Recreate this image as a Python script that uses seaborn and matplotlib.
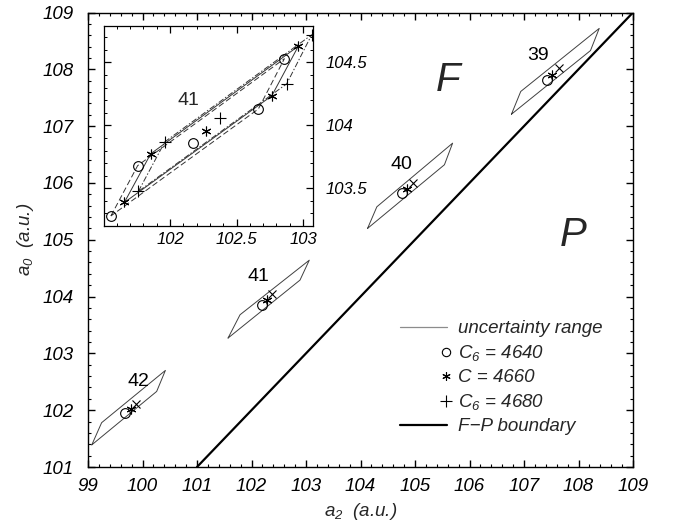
import numpy as np
import pandas as pd
import matplotlib
matplotlib.use("Agg")
import matplotlib.pyplot as plt
import seaborn as sns
from matplotlib.lines import Line2D
from matplotlib.legend_handler import HandlerLine2DCompound
from matplotlib.ticker import MultipleLocator, FormatStrFormatter

# ---------------- data ----------------
group_labels = ["42", "41", "40", "39"]
label_x = [99.92, 102.12, 104.76, 107.26]
label_y = [102.51, 104.36, 106.32, 108.25]

# uncertainty parallelograms (main plot)
bl_x = [99.07, 101.57, 104.13, 106.77]
bl_y = [101.39, 103.27, 105.20, 107.21]
ul_x = [99.25, 101.79, 104.30, 106.94]
ul_y = [101.78, 103.68, 105.58, 107.61]
tr_x = [100.42, 103.06, 105.69, 108.38]
tr_y = [102.70, 104.64, 106.70, 108.72]
lr_x = [100.26, 102.89, 105.54, 108.22]
lr_y = [102.33, 104.29, 106.32, 108.33]

# centre points for the three C6 values
c4640_x = [99.68, 102.19, 104.76, 107.42]
c4640_y = [101.95, 103.85, 105.82, 107.81]
c4660_x = [99.79, 102.28, 104.86, 107.52]
c4660_y = [102.02, 103.94, 105.89, 107.90]
c4680_x = [99.88, 102.38, 104.96, 107.64]
c4680_y = [102.11, 104.04, 106.00, 108.02]

boundary_x = [101, 109]
boundary_y = [101, 109]

# inset (group 41): vertices BL, UL, TR, LR, centre
in4640_x = [101.556, 101.757, 102.860, 102.664, 102.17]
in4640_y = [103.280, 103.680, 104.530, 104.130, 103.86]
in4660_x = [101.657, 101.855, 102.965, 102.765, 102.27]
in4660_y = [103.387, 103.774, 104.630, 104.235, 103.957]
in4680_x = [101.762, 101.962, 103.065, 102.877, 102.376]
in4680_y = [103.475, 103.870, 104.720, 104.330, 104.06]

# ---------------- style ----------------
sns.set_theme(style="ticks")
plt.rcParams["font.family"] = ["Liberation Sans", "DejaVu Sans"]
plt.rcParams["font.style"] = "italic"
plt.rcParams["mathtext.fontset"] = "custom"
plt.rcParams["mathtext.it"] = "Liberation Sans:italic"
plt.rcParams["mathtext.rm"] = "Liberation Sans:italic"
plt.rcParams["axes.linewidth"] = 1.0
plt.rcParams["axes.edgecolor"] = "black"

W, H = 680, 527
fig = plt.figure(figsize=(W / 100, H / 100), dpi=100)
ax = fig.add_axes([88 / W, 1 - 467 / H, 545 / W, 454.5 / H])

STAR = (6, 2, 0)
poly_col = "0.25"

# parallelograms
for i in range(len(group_labels)):
    xs = [bl_x[i], ul_x[i], tr_x[i], lr_x[i], bl_x[i]]
    ys = [bl_y[i], ul_y[i], tr_y[i], lr_y[i], bl_y[i]]
    ax.plot(xs, ys, color=poly_col, lw=0.7)
    ax.text(label_x[i], label_y[i], group_labels[i], fontsize=14,
            style="normal", ha="center", va="center", color="black")

# boundary
sns.lineplot(x=boundary_x, y=boundary_y, ax=ax, color="black", lw=1.6)

# centre markers
ax.plot(c4640_x, c4640_y, ls="none", marker="o", mfc="none", mec="black",
        ms=7, mew=0.8)
ax.plot(c4660_x, c4660_y, ls="none", marker=STAR, color="black", ms=7, mew=0.8)
ax.plot(c4680_x, c4680_y, ls="none", marker="x", color="black", ms=5.5, mew=0.8)

ax.text(105.6, 107.82, "F", fontsize=29, ha="center", va="center")
ax.text(107.9, 105.08, "P", fontsize=29, ha="center", va="center")

ax.set_xlim(99, 109)
ax.set_ylim(101, 109)
ax.xaxis.set_major_locator(MultipleLocator(1))
ax.xaxis.set_minor_locator(MultipleLocator(0.2))
ax.yaxis.set_major_locator(MultipleLocator(1))
ax.yaxis.set_minor_locator(MultipleLocator(0.2))
ax.xaxis.set_major_formatter(FormatStrFormatter("%g"))
ax.yaxis.set_major_formatter(FormatStrFormatter("%g"))
ax.tick_params(which="both", direction="in", top=True, right=True,
               colors="black", labelsize=13.5)
ax.tick_params(which="major", length=5, width=1, pad=8)
ax.tick_params(axis="y", which="major", pad=10)
ax.tick_params(which="minor", length=2.5, width=0.8)
ax.set_xlabel(r"$a_2$  (a.u.)", fontsize=13.5, labelpad=4)
ax.set_ylabel(r"$a_0$  (a.u.)", fontsize=13.5, labelpad=5)
for s in ax.spines.values():
    s.set_visible(True)
    s.set_color("black")

# legend (markers at the right end of the handle, as in the reference)
class RightMarker(HandlerLine2DCompound):
    def get_xdata(self, legend, xdescent, ydescent, width, height, fontsize):
        xd, xm = super().get_xdata(legend, xdescent, ydescent, width, height, fontsize)
        return xd, [-xdescent + width - 0.05 * fontsize]

handles = [
    Line2D([], [], color="0.55", lw=0.9),
    Line2D([], [], ls="none", marker="o", mfc="none", mec="black", ms=6, mew=0.8),
    Line2D([], [], ls="none", marker=STAR, color="black", ms=6, mew=0.8),
    Line2D([], [], ls="none", marker="+", color="black", ms=8, mew=0.8),
    Line2D([], [], color="black", lw=1.6),
]
labels = ["uncertainty range", r"$C_6$ = 4640", "C = 4660", r"$C_6$ = 4680",
          "F\u2212P boundary"]
hm = {h: RightMarker(numpoints=1) for h in handles[1:4]}
leg = fig.legend(handles, labels, loc="upper left",
                 bbox_to_anchor=(400 / W, 1 - 320 / H), frameon=False,
                 fontsize=13.5, handlelength=2.5, handletextpad=0.6,
                 labelspacing=0.32, borderpad=0, borderaxespad=0,
                 handler_map=hm)

# ---------------- inset ----------------
ins = fig.add_axes([104 / W, 1 - 226 / H, 209 / W, 200 / H])
ins.set_facecolor("white")
order = [0, 1, 2, 3, 0]
for xs, ys, ls in [(in4640_x, in4640_y, (0, (6, 3))),
                   (in4660_x, in4660_y, "-"),
                   (in4680_x, in4680_y, (0, (6, 2, 1.5, 2)))]:
    ins.plot([xs[k] for k in order], [ys[k] for k in order], color="0.2",
             lw=0.7, ls=ls)
ins.plot(in4640_x, in4640_y, ls="none", marker="o", mfc="none", mec="black",
         ms=7, mew=0.8)
ins.plot(in4660_x, in4660_y, ls="none", marker=STAR, color="black", ms=7, mew=0.8)
ins.plot(in4680_x, in4680_y, ls="none", marker="+", color="black", ms=8, mew=0.8)
ins.text(102.14, 104.2, "41", fontsize=14, style="normal", ha="center",
         va="center")
ins.set_xlim(101.504, 103.075)
ins.set_ylim(103.20, 104.79)
ins.xaxis.set_major_locator(MultipleLocator(0.5))
ins.xaxis.set_minor_locator(MultipleLocator(0.1))
ins.yaxis.set_major_locator(MultipleLocator(0.5))
ins.yaxis.set_minor_locator(MultipleLocator(0.1))
ins.xaxis.set_major_formatter(FormatStrFormatter("%g"))
ins.yaxis.set_major_formatter(FormatStrFormatter("%g"))
ins.tick_params(which="both", direction="in", top=True, right=True,
                left=True, bottom=True, labelleft=False, labelright=True,
                colors="black", labelsize=12)
ins.tick_params(which="major", length=5, width=0.9, pad=4)
ins.tick_params(axis="y", which="major", pad=9)
ins.tick_params(which="minor", length=2.5, width=0.7)
for s in ins.spines.values():
    s.set_visible(True)
    s.set_color("black")
    s.set_linewidth(0.9)

fig.savefig("out.png", dpi=100)
